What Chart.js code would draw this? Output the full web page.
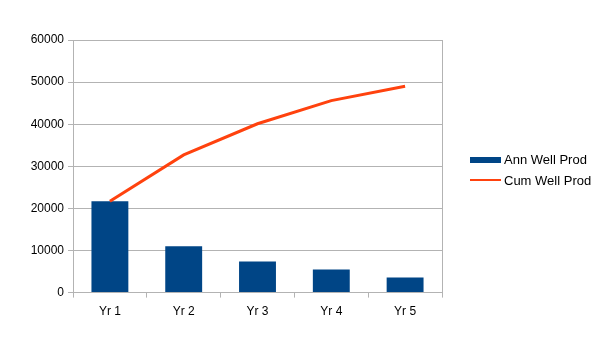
<!DOCTYPE html>
<html>
<head>
<meta charset="utf-8">
<script src="https://cdn.jsdelivr.net/npm/chart.js@4/dist/chart.umd.min.js"></script>
<style>
  html, body { margin: 0; padding: 0; background: #fff; }
  #wrap { width: 605px; height: 340px; }
</style>
</head>
<body>
<div id="wrap"><canvas id="myChart" width="605" height="340"></canvas></div>
<script>
(() => {
  'use strict'

  const labels = ['Yr 1', 'Yr 2', 'Yr 3', 'Yr 4', 'Yr 5']
  const annProd = [21700, 11000, 7400, 5500, 3600]
  const cumProd = [21700, 32700, 40100, 45600, 49000]
  const yTicks = [0, 10000, 20000, 30000, 40000, 50000, 60000]

  const navy = '#004586'
  const orange = '#ff420e'
  const grid = '#b3b3b3'
  const font = { family: '"Liberation Sans", Arial, sans-serif', size: 12 }

  // right edge of the plot frame
  const frameRight = {
    id: 'frameRight',
    beforeDatasetsDraw(chart) {
      const a = chart.chartArea
      const c = chart.ctx
      c.save()
      c.strokeStyle = grid
      c.lineWidth = 1
      c.beginPath()
      c.moveTo(Math.round(a.right) + 0.5, a.top)
      c.lineTo(Math.round(a.right) + 0.5, a.bottom)
      c.stroke()
      c.restore()
    }
  }

  // legend drawn by hand so it sits where the original does
  const sideLegend = {
    id: 'sideLegend',
    afterDraw(chart) {
      const c = chart.ctx
      c.save()
      c.fillStyle = navy
      c.fillRect(470, 157, 31, 6)
      c.strokeStyle = orange
      c.lineWidth = 2
      c.beginPath()
      c.moveTo(470, 180)
      c.lineTo(501, 180)
      c.stroke()
      c.fillStyle = '#000'
      c.font = '13px "Liberation Sans", Arial, sans-serif'
      c.textBaseline = 'middle'
      c.fillText(chart.data.datasets[1].label, 504, 160)
      c.fillText(chart.data.datasets[0].label, 504, 181)
      c.restore()
    }
  }

  new Chart(document.getElementById('myChart'), {
    data: {
      labels: labels,
      datasets: [
        {
          type: 'line',
          label: 'Cum Well Prod',
          data: cumProd,
          borderColor: orange,
          backgroundColor: orange,
          borderWidth: 3,
          pointRadius: 0,
          tension: 0,
          order: 0
        },
        {
          type: 'bar',
          label: 'Ann Well Prod',
          data: annProd,
          backgroundColor: navy,
          barPercentage: 0.5,
          categoryPercentage: 1,
          order: 1
        }
      ]
    },
    options: {
      responsive: false,
      animation: false,
      layout: { padding: { top: 40, right: 163, bottom: 14, left: 0 } },
      plugins: { legend: { display: false }, tooltip: { enabled: false } },
      scales: {
        x: {
          offset: true,
          grid: { offset: true, color: grid, drawOnChartArea: false, tickLength: 5 },
          border: { color: grid },
          ticks: { color: '#000', font: font, padding: 7 }
        },
        y: {
          min: 0,
          max: 60000,
          afterFit(scale) { scale.width = 73 },
          afterBuildTicks(scale) { scale.ticks = yTicks.map(v => ({ value: v })) },
          grid: { color: grid, tickLength: 5 },
          border: { color: grid },
          ticks: { color: '#000', font: font, padding: 4, callback: v => String(v) }
        }
      }
    },
    plugins: [frameRight, sideLegend]
  })
})()
</script>
</body>
</html>
